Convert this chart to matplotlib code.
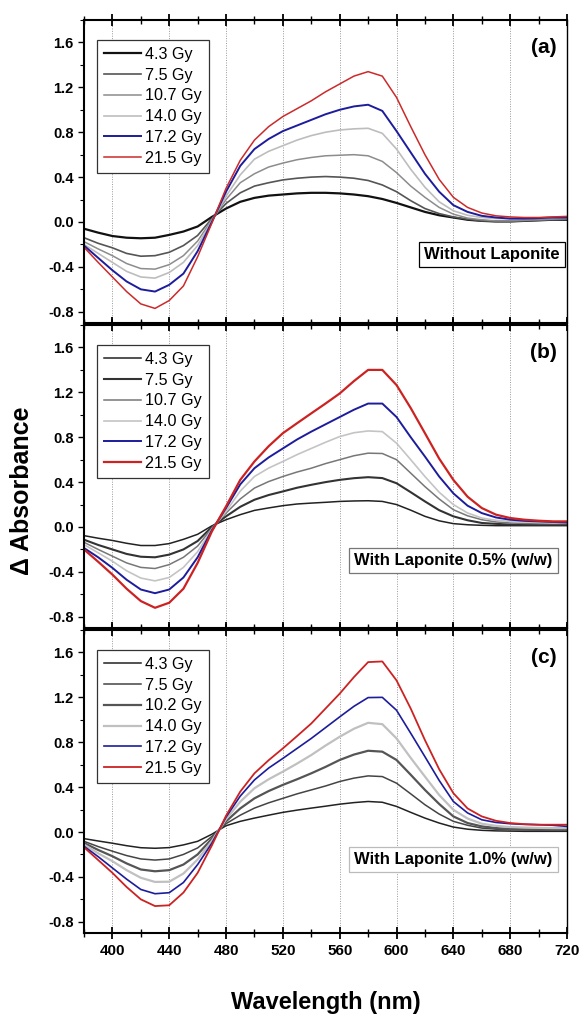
import numpy as np
import matplotlib
matplotlib.use('Agg')
import matplotlib.pyplot as plt
from matplotlib.ticker import MultipleLocator, FormatStrFormatter

plt.rcParams['font.family'] = ['Liberation Sans', 'DejaVu Sans']
plt.rcParams['axes.unicode_minus'] = False

wl = list(range(380, 721, 10))

# panel (a): without laponite
doses_a = ['4.3 Gy', '7.5 Gy', '10.7 Gy', '14.0 Gy', '17.2 Gy', '21.5 Gy']
a_43 = [-0.06, -0.095, -0.125, -0.14, -0.145, -0.14, -0.115, -0.085, -0.04, 0.045, 0.12, 0.18, 0.215, 0.235, 0.245,
        0.255, 0.26, 0.26, 0.255, 0.245, 0.23, 0.205, 0.17, 0.13, 0.09, 0.06, 0.04, 0.02, 0.01, 0.005, 0.005, 0.01,
        0.015, 0.02, 0.02]
a_75 = [-0.14, -0.19, -0.23, -0.28, -0.305, -0.30, -0.27, -0.21, -0.12, 0.03, 0.165, 0.26, 0.32, 0.35, 0.375, 0.39,
        0.40, 0.405, 0.40, 0.39, 0.37, 0.33, 0.27, 0.19, 0.12, 0.075, 0.045, 0.025, 0.01, 0.005, 0.005, 0.01, 0.015,
        0.02, 0.025]
a_107 = [-0.175, -0.24, -0.30, -0.37, -0.415, -0.42, -0.38, -0.30, -0.17, 0.02, 0.20, 0.35, 0.43, 0.49, 0.525, 0.555,
         0.575, 0.59, 0.595, 0.60, 0.59, 0.54, 0.44, 0.32, 0.22, 0.13, 0.07, 0.035, 0.02, 0.01, 0.01, 0.015, 0.02,
         0.025, 0.03]
a_140 = [-0.20, -0.28, -0.36, -0.44, -0.49, -0.50, -0.45, -0.36, -0.21, 0.01, 0.23, 0.42, 0.56, 0.63, 0.68, 0.73,
         0.77, 0.80, 0.82, 0.83, 0.835, 0.79, 0.65, 0.47, 0.31, 0.18, 0.10, 0.06, 0.04, 0.03, 0.03, 0.03, 0.035, 0.04,
         0.04]
a_172 = [-0.21, -0.32, -0.43, -0.53, -0.60, -0.62, -0.56, -0.46, -0.26, 0.0, 0.27, 0.50, 0.65, 0.74, 0.81, 0.86,
         0.91, 0.96, 1.00, 1.03, 1.045, 0.99, 0.81, 0.62, 0.43, 0.27, 0.15, 0.09, 0.055, 0.04, 0.03, 0.03, 0.035,
         0.04, 0.04]
a_215 = [-0.225, -0.36, -0.49, -0.62, -0.73, -0.77, -0.70, -0.57, -0.31, -0.01, 0.30, 0.55, 0.73, 0.85, 0.94, 1.01,
         1.08, 1.16, 1.23, 1.30, 1.34, 1.30, 1.11, 0.85, 0.60, 0.38, 0.22, 0.13, 0.08, 0.055, 0.045, 0.04, 0.04,
         0.045, 0.05]

# panel (b): laponite 0.5%
doses_b = ['4.3 Gy', '7.5 Gy', '10.7 Gy', '14.0 Gy', '17.2 Gy', '21.5 Gy']
b_43 = [-0.077, -0.10, -0.12, -0.145, -0.165, -0.165, -0.148, -0.11, -0.065, 0.01, 0.065, 0.11, 0.148, 0.17, 0.19,
        0.205, 0.213, 0.22, 0.228, 0.232, 0.234, 0.228, 0.20, 0.15, 0.095, 0.055, 0.03, 0.02, 0.015, 0.012, 0.012,
        0.012, 0.012, 0.012, 0.012]
b_75 = [-0.113, -0.16, -0.20, -0.24, -0.265, -0.27, -0.246, -0.20, -0.125, 0.0, 0.095, 0.18, 0.243, 0.285, 0.317,
        0.35, 0.376, 0.40, 0.42, 0.435, 0.444, 0.436, 0.39, 0.31, 0.228, 0.15, 0.095, 0.06, 0.036, 0.028, 0.022,
        0.02, 0.02, 0.02, 0.02]
b_107 = [-0.136, -0.20, -0.26, -0.32, -0.36, -0.37, -0.335, -0.27, -0.17, -0.01, 0.124, 0.25, 0.347, 0.405, 0.45,
         0.49, 0.524, 0.565, 0.60, 0.635, 0.658, 0.655, 0.60, 0.48, 0.36, 0.25, 0.154, 0.10, 0.065, 0.045, 0.036,
         0.032, 0.03, 0.03, 0.03]
b_140 = [-0.157, -0.23, -0.305, -0.39, -0.455, -0.48, -0.45, -0.36, -0.22, -0.02, 0.139, 0.32, 0.45, 0.525, 0.584,
         0.645, 0.70, 0.755, 0.806, 0.84, 0.856, 0.85, 0.747, 0.60, 0.45, 0.31, 0.20, 0.125, 0.08, 0.06, 0.05, 0.045,
         0.04, 0.036, 0.036]
b_172 = [-0.187, -0.27, -0.364, -0.47, -0.557, -0.59, -0.557, -0.45, -0.27, -0.03, 0.169, 0.38, 0.524, 0.62, 0.70,
         0.78, 0.85, 0.915, 0.98, 1.045, 1.10, 1.10, 0.98, 0.80, 0.628, 0.45, 0.30, 0.19, 0.124, 0.085, 0.065, 0.055,
         0.05, 0.045, 0.04]
b_215 = [-0.20, -0.31, -0.424, -0.55, -0.66, -0.72, -0.675, -0.55, -0.32, -0.04, 0.184, 0.42, 0.584, 0.72, 0.836,
         0.925, 1.013, 1.10, 1.19, 1.30, 1.40, 1.40, 1.265, 1.06, 0.836, 0.61, 0.42, 0.27, 0.169, 0.11, 0.08, 0.065,
         0.056, 0.05, 0.05]

# panel (c): laponite 1.0%
doses_c = ['4.3 Gy', '7.5 Gy', '10.2 Gy', '14.0 Gy', '17.2 Gy', '21.5 Gy']
c_43 = [-0.059, -0.08, -0.10, -0.122, -0.14, -0.145, -0.139, -0.115, -0.083, -0.02, 0.056, 0.095, 0.124, 0.15,
        0.175, 0.195, 0.213, 0.23, 0.248, 0.262, 0.272, 0.265, 0.228, 0.175, 0.124, 0.08, 0.044, 0.025, 0.015, 0.01,
        0.008, 0.006, 0.006, 0.006, 0.006]
c_75 = [-0.083, -0.13, -0.171, -0.21, -0.24, -0.25, -0.24, -0.20, -0.142, -0.04, 0.074, 0.15, 0.213, 0.26, 0.30,
        0.34, 0.375, 0.41, 0.45, 0.48, 0.50, 0.494, 0.435, 0.34, 0.243, 0.16, 0.095, 0.06, 0.035, 0.025, 0.02, 0.018,
        0.016, 0.015, 0.015]
c_102 = [-0.098, -0.16, -0.216, -0.28, -0.334, -0.35, -0.34, -0.29, -0.20, -0.06, 0.095, 0.21, 0.30, 0.365, 0.42,
         0.47, 0.523, 0.58, 0.642, 0.69, 0.724, 0.716, 0.642, 0.51, 0.375, 0.25, 0.139, 0.08, 0.05, 0.035, 0.027,
         0.024, 0.022, 0.02, 0.02]
c_140 = [-0.112, -0.19, -0.26, -0.34, -0.408, -0.445, -0.443, -0.37, -0.245, -0.08, 0.115, 0.27, 0.39, 0.47, 0.538,
         0.61, 0.686, 0.77, 0.849, 0.92, 0.973, 0.961, 0.834, 0.66, 0.494, 0.33, 0.198, 0.12, 0.074, 0.055, 0.044,
         0.04, 0.037, 0.035, 0.035]
c_172 = [-0.127, -0.22, -0.32, -0.42, -0.512, -0.55, -0.541, -0.45, -0.29, -0.10, 0.133, 0.32, 0.464, 0.57, 0.656,
         0.745, 0.834, 0.93, 1.026, 1.12, 1.198, 1.20, 1.085, 0.88, 0.671, 0.46, 0.272, 0.17, 0.109, 0.085, 0.074,
         0.068, 0.065, 0.06, 0.05]
c_215 = [-0.136, -0.25, -0.364, -0.49, -0.60, -0.66, -0.653, -0.54, -0.364, -0.12, 0.145, 0.36, 0.523, 0.64, 0.745,
         0.855, 0.967, 1.10, 1.233, 1.38, 1.514, 1.52, 1.351, 1.10, 0.819, 0.56, 0.346, 0.21, 0.139, 0.10, 0.08,
         0.07, 0.065, 0.065, 0.065]

panels = [
    ('(a)', 'Without Laponite', doses_a, [a_43, a_75, a_107, a_140, a_172, a_215],
     ['#111111', '#555555', '#8c8c8c', '#bdbdbd', '#1c1c9c', '#cc2a2a'], [1.6, 1.2, 1.1, 1.2, 1.4, 1.1],
     'k', 0.226),
    ('(b)', 'With Laponite 0.5% (w/w)', doses_b, [b_43, b_75, b_107, b_140, b_172, b_215],
     ['#222222', '#333333', '#777777', '#c4c4c4', '#1c1c9c', '#cc2222'], [1.1, 1.5, 1.1, 1.2, 1.4, 1.6],
     '#777777', 0.224),
    ('(c)', 'With Laponite 1.0% (w/w)', doses_c, [c_43, c_75, c_102, c_140, c_172, c_215],
     ['#222222', '#444444', '#555555', '#c0c0c0', '#1c1c9c', '#cc2222'], [1.1, 1.1, 1.6, 1.6, 1.2, 1.3],
     '#bbbbbb', 0.244),
]

fig = plt.figure(figsize=(5.84, 10.16), dpi=100)
left, width, height = 0.1438, 0.8271, 0.2982
bottoms = [0.6821, 0.3819, 0.0817]

for i, (tag, note, labels, series, colors, widths, boxcol, note_y) in enumerate(panels):
    ax = fig.add_axes([left, bottoms[i], width, height])
    for x in range(400, 721, 40):
        ax.axvline(x, color='#999999', lw=0.7, ls=(0, (1, 1.5)), zorder=0)
    for lab, y, c, w in zip(labels, series, colors, widths):
        ax.plot(wl, y, color=c, lw=w, label=lab)
    ax.set_xlim(380, 720)
    ax.set_ylim(-0.9, 1.8)
    ax.xaxis.set_major_locator(MultipleLocator(40))
    ax.xaxis.set_minor_locator(MultipleLocator(20))
    ax.yaxis.set_major_locator(MultipleLocator(0.4))
    ax.yaxis.set_minor_locator(MultipleLocator(0.2))
    ax.yaxis.set_major_formatter(FormatStrFormatter('%.1f'))
    ax.tick_params(axis='x', which='both', direction='inout', top=True, bottom=True)
    ax.tick_params(axis='x', which='major', length=9, width=1.3)
    ax.tick_params(axis='x', which='minor', length=6, width=1.0)
    ax.tick_params(axis='y', which='major', direction='out', length=4, width=1.0, labelsize=10.5)
    ax.tick_params(axis='y', which='minor', direction='out', length=3, width=0.8)
    for s in ['left', 'bottom', 'top']:
        ax.spines[s].set_linewidth(1.5)
    ax.spines['right'].set_linewidth(1.0)
    for t in ax.get_yticklabels():
        t.set_fontweight('bold')
    if i < 2:
        ax.set_xticklabels([])
    else:
        ax.tick_params(axis='x', labelsize=11)
        for t in ax.get_xticklabels():
            t.set_fontweight('bold')
    leg = ax.legend(loc='upper left', bbox_to_anchor=(0.01, 0.962), fontsize=11.6, handlelength=2.3,
                    handletextpad=0.25, labelspacing=0.36, borderpad=0.45, fancybox=False, framealpha=1)
    leg.get_frame().set_edgecolor('#333333')
    leg.get_frame().set_linewidth(0.9)
    ax.text(0.978, 0.91, tag, transform=ax.transAxes, ha='right', va='center', fontsize=15,
            fontweight='bold')
    ax.text(0.985 if i == 0 else 0.97, note_y, note, transform=ax.transAxes, ha='right', va='center',
            fontsize=12, fontweight='bold',
            bbox=dict(boxstyle='square,pad=0.3', facecolor='white', edgecolor=boxcol, linewidth=0.9))

fig.text(0.038, 0.517, '\u0394 Absorbance', rotation=90, ha='center', va='center', fontsize=18,
         fontweight='bold')
fig.text(0.558, 0.0128, 'Wavelength (nm)', ha='center', va='center', fontsize=17, fontweight='bold')

fig.savefig('out.png', dpi=100)
